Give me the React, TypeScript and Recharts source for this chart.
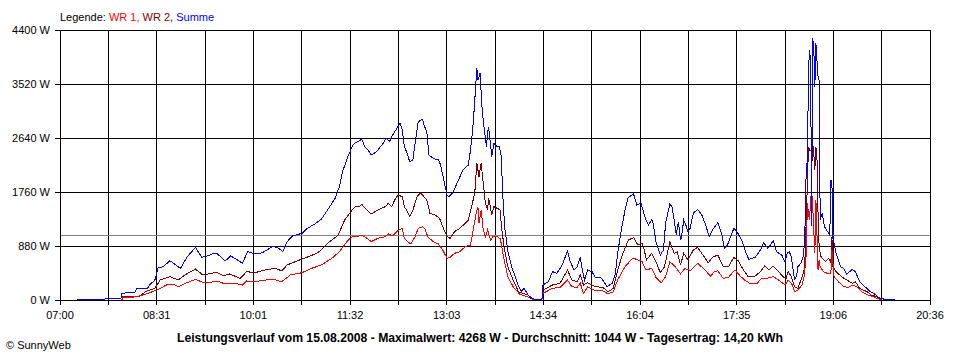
import React from "react";
import { LineChart, Line, XAxis, YAxis, CartesianGrid, ReferenceLine } from "recharts";

// time labels under every second vertical grid line
const X_LABELS = ["07:00", "08:31", "10:01", "11:32", "13:03", "14:34", "16:04", "17:35", "19:06", "20:36"];
const Y_TICKS = [0, 880, 1760, 2640, 3520, 4400];
const AVERAGE = 1044;

// WR 1 (red)
const WR1: [string, number][] = [
	["07:58", 0], ["07:59", 37], ["08:10", 50], ["08:18", 81], ["08:31", 163], ["08:40", 245], ["08:46", 260],
	["08:51", 217], ["08:59", 282], ["09:07", 337], ["09:14", 288], ["09:19", 282], ["09:27", 310], ["09:35", 261],
	["09:44", 271], ["09:51", 244], ["09:55", 310], ["10:03", 299], ["10:19", 342], ["10:28", 299], ["10:36", 407],
	["10:47", 445], ["10:56", 516], ["11:05", 570], ["11:15", 679], ["11:22", 787], ["11:29", 950], ["11:34", 1032],
	["11:37", 1043], ["11:39", 1032], ["11:43", 1059], ["11:48", 1005], ["11:52", 950], ["11:58", 1005], ["12:05", 1032],
	["12:08", 1076], ["12:12", 1043], ["12:17", 1130], ["12:21", 1168], ["12:23", 1005], ["12:26", 950], ["12:29", 913],
	["12:33", 1032], ["12:36", 1168], ["12:40", 1195], ["12:42", 1168], ["12:45", 1032], ["12:50", 950], ["12:55", 913],
	["12:59", 815], ["13:03", 679], ["13:06", 695], ["13:10", 761], ["13:15", 787], ["13:20", 869], ["13:25", 896],
	["13:27", 1087], ["13:30", 1385], ["13:32", 1520], ["13:33", 1250], ["13:35", 1467], ["13:37", 1141], ["13:39", 1032],
	["13:41", 1141], ["13:44", 978], ["13:46", 1032], ["13:50", 1032], ["13:53", 1000], ["13:56", 706], ["14:00", 380],
	["14:05", 217], ["14:11", 98], ["14:18", 54], ["14:23", 11], ["14:26", 5], ["14:32", 5], ["14:33", 109],
	["14:42", 190], ["14:49", 206], ["14:56", 326], ["15:00", 217], ["15:05", 206], ["15:08", 272], ["15:11", 109],
	["15:15", 217], ["15:22", 152], ["15:29", 152], ["15:34", 98], ["15:39", 135], ["15:43", 326], ["15:50", 543],
	["15:57", 679], ["16:01", 663], ["16:06", 625], ["16:08", 543], ["16:10", 489], ["16:15", 516], ["16:19", 369],
	["16:24", 282], ["16:28", 380], ["16:32", 625], ["16:37", 543], ["16:42", 424], ["16:46", 516], ["16:51", 478],
	["16:58", 598], ["17:05", 489], ["17:10", 391], ["17:14", 462], ["17:17", 478], ["17:22", 353], ["17:27", 369],
	["17:33", 489], ["17:38", 391], ["17:42", 326], ["17:47", 272], ["17:54", 272], ["17:58", 353], ["18:03", 353],
	["18:09", 380], ["18:14", 326], ["18:20", 245], ["18:23", 326], ["18:27", 245], ["18:29", 135], ["18:32", 163],
	["18:36", 245], ["18:38", 380], ["18:40", 761], ["18:41", 1576], ["18:42", 1413], ["18:43", 1304], ["18:44", 1630],
	["18:45", 1793], ["18:46", 1520], ["18:48", 761], ["18:49", 1630], ["18:51", 489], ["18:52", 652], ["18:53", 543],
	["18:56", 462], ["19:01", 424], ["19:03", 435], ["19:04", 815], ["19:06", 380], ["19:10", 299], ["19:15", 217],
	["19:19", 206], ["19:24", 245], ["19:27", 217], ["19:32", 135], ["19:38", 81], ["19:43", 54], ["19:46", 28],
	["19:51", 5],
];

// WR 2 (dark red)
const WR2: [string, number][] = [
	["07:58", 0], ["07:59", 65], ["08:15", 65], ["08:20", 135], ["08:29", 190], ["08:34", 326], ["08:43", 380],
	["08:51", 326], ["08:57", 407], ["09:07", 505], ["09:14", 407], ["09:19", 424], ["09:27", 451], ["09:33", 396],
	["09:39", 424], ["09:49", 353], ["09:55", 462], ["10:03", 445], ["10:12", 489], ["10:22", 516], ["10:28", 473],
	["10:33", 570], ["10:43", 641], ["10:53", 706], ["11:02", 771], ["11:11", 924], ["11:21", 1059], ["11:27", 1304],
	["11:34", 1467], ["11:37", 1520], ["11:41", 1520], ["11:43", 1559], ["11:48", 1467], ["11:52", 1401], ["11:58", 1467],
	["12:05", 1520], ["12:08", 1576], ["12:11", 1520], ["12:14", 1630], ["12:17", 1711], ["12:21", 1684], ["12:23", 1520],
	["12:25", 1467], ["12:28", 1358], ["12:31", 1467], ["12:35", 1684], ["12:38", 1749], ["12:40", 1711], ["12:44", 1630],
	["12:47", 1413], ["12:52", 1385], ["12:56", 1331], ["12:59", 1195], ["13:03", 1032], ["13:06", 1005], ["13:10", 1113],
	["13:15", 1168], ["13:20", 1250], ["13:23", 1304], ["13:26", 1520], ["13:29", 1738], ["13:31", 2228], ["13:33", 2009],
	["13:35", 2228], ["13:37", 1901], ["13:39", 1576], ["13:41", 1467], ["13:42", 1657], ["13:43", 1576], ["13:45", 1385],
	["13:47", 1520], ["13:50", 1494], ["13:53", 1467], ["13:54", 1195], ["13:57", 815], ["14:00", 543], ["14:05", 326],
	["14:10", 135], ["14:14", 109], ["14:19", 81], ["14:23", 28], ["14:26", 5], ["14:32", 5], ["14:33", 163],
	["14:42", 245], ["14:49", 272], ["14:56", 489], ["15:00", 326], ["15:05", 299], ["15:08", 407], ["15:11", 245],
	["15:15", 282], ["15:22", 217], ["15:29", 206], ["15:34", 135], ["15:39", 190], ["15:43", 489], ["15:48", 761],
	["15:53", 978], ["15:58", 1016], ["16:02", 896], ["16:06", 924], ["16:08", 815], ["16:10", 652], ["16:15", 761],
	["16:19", 625], ["16:23", 445], ["16:27", 543], ["16:32", 950], ["16:36", 761], ["16:39", 787], ["16:42", 570],
	["16:45", 761], ["16:49", 652], ["16:54", 815], ["16:58", 858], ["17:03", 733], ["17:08", 608], ["17:12", 695],
	["17:17", 733], ["17:22", 543], ["17:27", 543], ["17:32", 695], ["17:36", 641], ["17:41", 489], ["17:45", 391],
	["17:52", 391], ["17:57", 462], ["18:01", 554], ["18:05", 489], ["18:09", 554], ["18:14", 462], ["18:18", 380],
	["18:21", 353], ["18:23", 462], ["18:26", 380], ["18:29", 217], ["18:32", 190], ["18:35", 326], ["18:38", 489],
	["18:39", 761], ["18:40", 1358], ["18:41", 1900], ["18:42", 2498], ["18:43", 2444], ["18:44", 2444], ["18:45", 2390],
	["18:46", 2553], ["18:47", 2390], ["18:48", 2119], ["18:49", 2498], ["18:50", 2300], ["18:51", 1413], ["18:52", 869],
	["18:53", 761], ["18:54", 695], ["18:58", 625], ["19:01", 679], ["19:03", 598], ["19:04", 1032], ["19:05", 543],
	["19:08", 462], ["19:13", 380], ["19:18", 326], ["19:23", 272], ["19:26", 299], ["19:30", 190], ["19:37", 135],
	["19:41", 81], ["19:46", 54], ["19:49", 28], ["19:54", 5],
];

// Summe (blue)
const SUMME: [string, number][] = [
	["07:16", 5], ["07:20", 10], ["07:28", 15], ["07:40", 15], ["07:50", 20], ["07:57", 20], ["07:58", 100],
	["08:03", 125], ["08:10", 125], ["08:12", 190], ["08:22", 190], ["08:24", 245], ["08:29", 326], ["08:32", 520],
	["08:37", 543], ["08:43", 640], ["08:48", 580], ["08:53", 516], ["08:59", 695], ["09:07", 858], ["09:13", 695],
	["09:19", 722], ["09:23", 750], ["09:27", 761], ["09:35", 636], ["09:40", 717], ["09:44", 679], ["09:51", 598],
	["09:56", 787], ["10:03", 750], ["10:10", 771], ["10:19", 869], ["10:24", 858], ["10:29", 787], ["10:33", 950],
	["10:38", 1043], ["10:47", 1087], ["10:52", 1168], ["10:59", 1238], ["11:05", 1315], ["11:11", 1467], ["11:18", 1657],
	["11:22", 1846], ["11:25", 2091], ["11:30", 2335], ["11:34", 2498], ["11:36", 2553], ["11:39", 2580], ["11:43", 2618],
	["11:46", 2498], ["11:49", 2444], ["11:52", 2363], ["11:57", 2417], ["12:03", 2553], ["12:06", 2635], ["12:09", 2580],
	["12:12", 2689], ["12:16", 2798], ["12:19", 2879], ["12:21", 2770], ["12:23", 2498], ["12:25", 2417], ["12:28", 2254],
	["12:31", 2281], ["12:33", 2553], ["12:36", 2906], ["12:40", 2944], ["12:42", 2824], ["12:44", 2743], ["12:46", 2363],
	["12:50", 2309], ["12:55", 2281], ["12:57", 2200], ["12:59", 2037], ["13:03", 1711], ["13:05", 1684], ["13:09", 1765],
	["13:13", 1928], ["13:18", 2119], ["13:23", 2200], ["13:25", 2440], ["13:27", 2770], ["13:28", 2987], ["13:31", 3776],
	["13:32", 3585], ["13:34", 3694], ["13:36", 3096], ["13:38", 2770], ["13:40", 2498], ["13:41", 2716], ["13:42", 2824],
	["13:45", 2335], ["13:47", 2553], ["13:50", 2498], ["13:52", 2498], ["13:54", 2335], ["13:55", 1800], ["13:57", 1200],
	["14:00", 800], ["14:04", 520], ["14:07", 380], ["14:10", 220], ["14:13", 140], ["14:15", 190], ["14:18", 115],
	["14:21", 28], ["14:23", 20], ["14:26", 10], ["14:32", 10], ["14:33", 245], ["14:38", 299], ["14:42", 462],
	["14:46", 435], ["14:51", 570], ["14:56", 799], ["14:58", 652], ["15:02", 489], ["15:05", 543], ["15:08", 695],
	["15:10", 489], ["15:12", 326], ["15:15", 489], ["15:19", 462], ["15:22", 369], ["15:27", 369], ["15:29", 326],
	["15:33", 217], ["15:38", 272], ["15:41", 435], ["15:43", 761], ["15:47", 1195], ["15:50", 1467], ["15:53", 1673],
	["15:58", 1727], ["16:01", 1548], ["16:05", 1576], ["16:09", 1331], ["16:12", 1222], ["16:15", 1304], ["16:16", 1276],
	["16:19", 950], ["16:23", 733], ["16:26", 815], ["16:28", 1250], ["16:32", 1564], ["16:34", 1520], ["16:36", 1304],
	["16:38", 1059], ["16:40", 1276], ["16:42", 978], ["16:43", 1032], ["16:45", 1304], ["16:47", 1222], ["16:49", 1113],
	["16:51", 1168], ["16:54", 1413], ["16:58", 1478], ["17:02", 1385], ["17:05", 1250], ["17:09", 1032], ["17:12", 1141],
	["17:17", 1260], ["17:21", 1059], ["17:23", 842], ["17:26", 896], ["17:29", 1032], ["17:32", 1168], ["17:35", 1113],
	["17:40", 950], ["17:43", 787], ["17:46", 663], ["17:52", 695], ["17:57", 815], ["18:00", 934], ["18:04", 842],
	["18:09", 966], ["18:12", 787], ["18:17", 733], ["18:20", 620], ["18:22", 761], ["18:24", 787], ["18:26", 700],
	["18:28", 435], ["18:29", 340], ["18:31", 400], ["18:32", 543], ["18:35", 600], ["18:37", 700], ["18:38", 870],
	["18:39", 1300], ["18:40", 2228], ["18:41", 2119], ["18:42", 3748], ["18:43", 4074], ["18:44", 3911], ["18:45", 1200],
	["18:46", 4268], ["18:47", 4100], ["18:48", 3476], ["18:49", 4183], ["18:50", 3900], ["18:51", 3639], ["18:52", 3585],
	["18:53", 1304], ["18:55", 1413], ["18:57", 1195], ["19:01", 1087], ["19:02", 1040], ["19:03", 1955], ["19:04", 1901],
	["19:05", 1000], ["19:08", 761], ["19:10", 652], ["19:12", 543], ["19:15", 516], ["19:18", 418], ["19:23", 500],
	["19:26", 462], ["19:30", 299], ["19:35", 217], ["19:40", 135], ["19:44", 98], ["19:49", 28], ["19:54", 11],
	["20:03", 11],
];

const toMin = (s: string) => {
	const [h, m] = s.split(":").map(Number);
	return h * 60 + m;
};
const toRows = (arr: [string, number][]) => arr.map(([t, w]) => ({ t: toMin(t), w }));

const START = toMin(X_LABELS[0]);
const END = toMin(X_LABELS[X_LABELS.length - 1]);
// 18 grid steps, only every second one is labelled
const X_TICKS = Array.from({ length: 19 }, (_, i) => START + (i * (END - START)) / 18);

const FONT = "'Liberation Sans', Arial, sans-serif";
const tickStyle = { fontSize: 11, fill: "#000", fontFamily: FONT };

export default function App() {
	return (
		<div style={{ position: "absolute", left: 0, top: 0, width: 960, height: 360, background: "#fff" }}>
			<style>{`
				.recharts-cartesian-grid line, .recharts-cartesian-axis line, .recharts-reference-line line { shape-rendering: crispEdges; }
				.recharts-line-curve { shape-rendering: crispEdges; }
			`}</style>
			<LineChart width={960} height={360} margin={{ top: 30, right: 30, left: 0, bottom: 30 }}>
				<CartesianGrid stroke="#000" strokeOpacity={1} />
				<XAxis
					dataKey="t"
					type="number"
					domain={[START, END]}
					ticks={X_TICKS}
					tickFormatter={(_v: number, i: number) => (i % 2 === 0 ? X_LABELS[i / 2] : "")}
					interval={0}
					height={30}
					tickSize={5}
					tickMargin={6}
					stroke="#000"
					tick={tickStyle}
					allowDataOverflow
				/>
				<YAxis
					type="number"
					domain={[0, 4400]}
					ticks={Y_TICKS}
					tickFormatter={(v: number) => `${v} W`}
					interval={0}
					width={60}
					tickSize={5}
					tickMargin={5}
					stroke="#000"
					tick={tickStyle}
				/>
				<ReferenceLine y={AVERAGE} stroke="#808080" strokeWidth={1} />
				<Line data={toRows(WR2)} dataKey="w" stroke="#800000" strokeWidth={1} dot={false} activeDot={false} type="linear" isAnimationActive={false} />
				<Line data={toRows(WR1)} dataKey="w" stroke="#ff0000" strokeWidth={1} dot={false} activeDot={false} type="linear" isAnimationActive={false} />
				<Line data={toRows(SUMME)} dataKey="w" stroke="#0000ff" strokeWidth={1} dot={false} activeDot={false} type="linear" isAnimationActive={false} />
			</LineChart>
			<svg width={960} height={360} style={{ position: "absolute", left: 0, top: 0, pointerEvents: "none" }}>
				<text x={60} y={21} fontSize={11} fontFamily={FONT} fill="#000">
					Legende: <tspan fill="#ff0000">WR 1, </tspan>
					<tspan fill="#800000">WR 2, </tspan>
					<tspan fill="#0000ff">Summe</tspan>
				</text>
				<text
					x={480}
					y={342}
					textAnchor="middle"
					fontSize={12}
					fontWeight="bold"
					fontFamily={FONT}
					fill="#000"
					textLength={606}
					lengthAdjust="spacingAndGlyphs"
				>
					Leistungsverlauf vom 15.08.2008 - Maximalwert: 4268 W - Durchschnitt: 1044 W - Tagesertrag: 14,20 kWh
				</text>
				<text x={6} y={349} fontSize={11} fontFamily={FONT} fill="#000">
					© SunnyWeb
				</text>
			</svg>
		</div>
	);
}
